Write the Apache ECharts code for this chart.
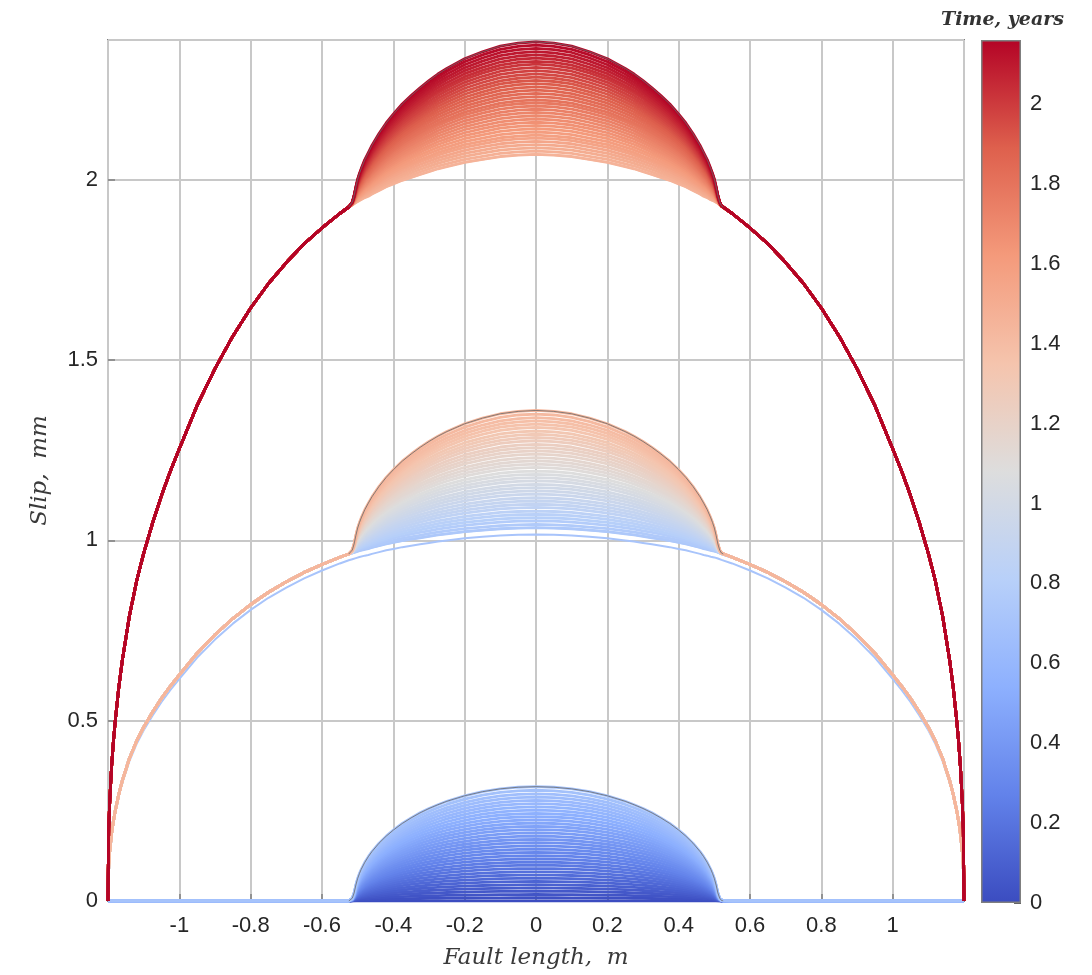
<!DOCTYPE html>
<html>
<head>
<meta charset="utf-8">
<title>Slip profiles</title>
<script src="https://cdn.jsdelivr.net/npm/echarts@6/dist/echarts.min.js"></script>
<style>
  html, body { margin: 0; padding: 0; background: #ffffff; }
  #chart { width: 1092px; height: 975px; }
</style>
</head>
<body>
<div id="chart"></div>
<script>
// Positions along the fault (m), one half; profiles are symmetric about x = 0
const faultX = [0, 0.05, 0.1, 0.15, 0.2, 0.25, 0.275, 0.3, 0.325, 0.35, 0.375, 0.4,
  0.42, 0.44, 0.46, 0.47, 0.48, 0.49, 0.495, 0.5, 0.505, 0.51, 0.515, 0.52, 0.525,
  0.55, 0.6, 0.65, 0.7, 0.75, 0.8, 0.85, 0.9, 0.95, 1.0,
  1.025, 1.05, 1.075, 1.1, 1.12, 1.14, 1.16, 1.17, 1.18, 1.185, 1.19, 1.195, 1.198, 1.2];

// Cumulative slip (mm) left by one full seismic cycle (creep patch + rupture)
const cycleSlip = [1.035, 1.034, 1.032, 1.028, 1.024, 1.018, 1.015, 1.011, 1.007, 1.003, 0.999, 0.994,
  0.990, 0.985, 0.980, 0.977, 0.975, 0.972, 0.971, 0.970, 0.968, 0.967, 0.965, 0.963, 0.962,
  0.953, 0.933, 0.911, 0.885, 0.856, 0.822, 0.783, 0.738, 0.687, 0.627,
  0.596, 0.562, 0.524, 0.482, 0.443, 0.395, 0.333, 0.295, 0.248, 0.220, 0.186, 0.140, 0.100, 0];

// Creeping patch profile, relative to its central slip
const creepShape = [1, 0.995, 0.981, 0.956, 0.920, 0.872, 0.842, 0.809, 0.771, 0.727, 0.678, 0.620,
  0.567, 0.506, 0.432, 0.388, 0.338, 0.277, 0.240, 0.197, 0.140, 0.070, 0.025, 0.005, 0,
  0, 0, 0, 0, 0, 0, 0, 0, 0, 0,
  0, 0, 0, 0, 0, 0, 0, 0, 0, 0, 0, 0, 0, 0];

// Saved creep profiles: time (years) and central patch slip (mm), per cycle
const creepTime1 = [0.00, 0.02, 0.04, 0.06, 0.08, 0.10, 0.12, 0.14, 0.16, 0.18, 0.20, 0.22,
  0.24, 0.26, 0.28, 0.30, 0.32, 0.34, 0.36, 0.38, 0.40, 0.42, 0.44, 0.46, 0.48, 0.50, 0.52,
  0.54, 0.56, 0.58, 0.60, 0.62, 0.64, 0.66, 0.68, 0.70];
const creepSlip1 = [0.000, 0.009, 0.018, 0.027, 0.036, 0.045, 0.054, 0.063, 0.072, 0.081, 0.090,
  0.099, 0.108, 0.117, 0.126, 0.135, 0.144, 0.153, 0.162, 0.171, 0.180, 0.189, 0.198, 0.207,
  0.216, 0.225, 0.234, 0.243, 0.252, 0.261, 0.270, 0.279, 0.288, 0.297, 0.307, 0.317];
const creepTime2 = [0.74, 0.76, 0.78, 0.80, 0.82, 0.84, 0.86, 0.88, 0.90, 0.92, 0.94, 0.96,
  0.98, 1.00, 1.02, 1.04, 1.06, 1.08, 1.10, 1.12, 1.14, 1.16, 1.18, 1.20, 1.22, 1.24, 1.26,
  1.28, 1.30, 1.32, 1.34, 1.36, 1.38, 1.40, 1.42, 1.44];
const creepSlip2 = [0.000, 0.009, 0.019, 0.028, 0.037, 0.046, 0.056, 0.065, 0.074, 0.083, 0.093,
  0.102, 0.111, 0.120, 0.130, 0.139, 0.148, 0.157, 0.167, 0.176, 0.185, 0.194, 0.204, 0.213,
  0.222, 0.231, 0.241, 0.250, 0.259, 0.268, 0.278, 0.287, 0.296, 0.305, 0.315, 0.325];
const creepTime3 = [1.46, 1.48, 1.50, 1.52, 1.54, 1.56, 1.58, 1.60, 1.62, 1.64, 1.66, 1.68,
  1.70, 1.72, 1.74, 1.76, 1.78, 1.80, 1.82, 1.84, 1.86, 1.88, 1.90, 1.92, 1.94, 1.96, 1.98,
  2.00, 2.02, 2.04, 2.06, 2.08, 2.10, 2.12, 2.14, 2.16];
const creepSlip3 = [0.000, 0.009, 0.018, 0.027, 0.036, 0.045, 0.053, 0.062, 0.071, 0.080, 0.089,
  0.098, 0.107, 0.116, 0.125, 0.134, 0.143, 0.151, 0.160, 0.169, 0.178, 0.187, 0.196, 0.205,
  0.214, 0.223, 0.232, 0.241, 0.250, 0.258, 0.267, 0.276, 0.285, 0.294, 0.303, 0.312];

// Rupture profiles: time (years) and slip level in units of one cycle
const ruptureTime = [0.71, 0.72, 1.45];
const ruptureLevel = [0.982, 1, 2];

// Colour scale (cool-warm) and its range in years
const timeMax = 2.16;
const coolWarm = ['#3b4cc0', '#6282ea', '#8db0fe', '#b8d0f9', '#dddddd',
  '#f5c4ad', '#f49a7b', '#de604d', '#b40426'];

function hexRgb(h) {
  return [parseInt(h.slice(1, 3), 16), parseInt(h.slice(3, 5), 16), parseInt(h.slice(5, 7), 16)];
}
function timeColor(t) {
  const f = Math.max(0, Math.min(1, t / timeMax)) * (coolWarm.length - 1);
  const i = Math.min(coolWarm.length - 2, Math.floor(f));
  const u = f - i;
  const a = hexRgb(coolWarm[i]), b = hexRgb(coolWarm[i + 1]);
  const c = a.map((v, k) => Math.round(v + (b[k] - v) * u));
  return 'rgb(' + c.join(',') + ')';
}

// Full fault: mirror the half-profiles
const halfN = faultX.length;
const fullIdx = [];
for (let i = halfN - 1; i >= 1; i--) fullIdx.push(-i);
for (let i = 0; i < halfN; i++) fullIdx.push(i);
function profile(level, peak) {
  return fullIdx.map(j => {
    const i = Math.abs(j);
    const x = j < 0 ? -faultX[i] : faultX[i];
    return [x, level * cycleSlip[i] + peak * creepShape[i]];
  });
}

// Collect every saved profile in time order
const profiles = [];
[[creepTime1, creepSlip1, 0], [creepTime2, creepSlip2, 1], [creepTime3, creepSlip3, 2]]
  .forEach(([times, peaks, cycle]) => {
    times.forEach((t, k) => profiles.push({ t, data: profile(cycle, peaks[k]), last: k === times.length - 1, rupture: false }));
  });
ruptureTime.forEach((t, k) => profiles.push({ t, data: profile(ruptureLevel[k], 0), last: false, rupture: true }));
profiles.sort((a, b) => a.t - b.t);

const series = [];
profiles.forEach(p => {
  series.push({
    type: 'line', data: p.data, showSymbol: false, silent: true, animation: false,
    xAxisIndex: 0, yAxisIndex: 0, z: 3,
    lineStyle: { color: timeColor(p.t), width: p.rupture ? 2 : 2.8 }
  });
});
// Thin outline over the creeping patch on the final profile of each episode
profiles.filter(p => p.last).forEach(p => {
  series.push({
    type: 'line', data: p.data.filter(d => Math.abs(d[0]) <= 0.525),
    showSymbol: false, silent: true, animation: false,
    xAxisIndex: 0, yAxisIndex: 0, z: 4,
    lineStyle: { color: 'rgba(105,105,105,0.8)', width: 1 }
  });
});

// Colour bar drawn as a single bar with the cool-warm gradient
series.push({
  type: 'bar', xAxisIndex: 1, yAxisIndex: 1, data: [timeMax], barWidth: '100%',
  silent: true, animation: false,
  itemStyle: {
    borderColor: '#7f7f7f', borderWidth: 1.5,
    color: new echarts.graphic.LinearGradient(0, 1, 0, 0,
      coolWarm.map((c, i) => ({ offset: i / (coolWarm.length - 1), color: c })))
  }
});

const tickFont = { fontFamily: 'Liberation Sans, Arial, sans-serif', fontSize: 22, color: '#262626' };
const nameFont = { fontFamily: 'DejaVu Serif, serif', fontStyle: 'italic', fontSize: 23, color: '#3a3a3a' };

const chart = echarts.init(document.getElementById('chart'), null, { renderer: 'canvas' });
chart.setOption({
  backgroundColor: '#ffffff',
  animation: false,
  title: {
    text: 'Time, years', left: 936, top: 6,
    textStyle: { fontFamily: 'DejaVu Serif, serif', fontStyle: 'italic', fontWeight: 'bold', fontSize: 19, color: '#333333' }
  },
  grid: [
    { left: 108, top: 40, width: 856, height: 863, show: true, borderColor: '#7f7f7f', borderWidth: 2, backgroundColor: '#ffffff' },
    { left: 981, top: 40, width: 40, height: 863 }
  ],
  xAxis: [
    {
      type: 'value', gridIndex: 0, min: -1.2, max: 1.2, interval: 0.2,
      name: 'Fault length,  m', nameLocation: 'middle', nameGap: 46, nameTextStyle: nameFont,
      axisLine: { show: false, onZero: false },
      axisTick: { show: true, inside: true, length: 7, lineStyle: { color: '#7f7f7f', width: 1.5 } },
      axisLabel: Object.assign({ margin: 14, showMinLabel: false, showMaxLabel: false }, tickFont),
      splitLine: { show: true, lineStyle: { color: '#c8c8c8', width: 2 } }
    },
    {
      type: 'category', gridIndex: 1, data: ['t'], show: false
    }
  ],
  yAxis: [
    {
      type: 'value', gridIndex: 0, min: 0, max: 2.387, interval: 0.5,
      name: 'Slip,  mm', nameLocation: 'middle', nameGap: 56, nameRotate: 90, nameTextStyle: nameFont,
      axisLine: { show: false, onZero: false },
      axisTick: { show: true, inside: true, length: 7, lineStyle: { color: '#7f7f7f', width: 1.5 } },
      axisLabel: Object.assign({ margin: 10, showMaxLabel: false }, tickFont),
      splitLine: { show: true, lineStyle: { color: '#c8c8c8', width: 2 } }
    },
    {
      type: 'value', gridIndex: 1, min: 0, max: timeMax, interval: 0.2, position: 'right',
      axisLine: { show: false },
      axisTick: { show: true, inside: true, length: 7, lineStyle: { color: '#333333', width: 1.5 } },
      axisLabel: Object.assign({ margin: 9, showMaxLabel: false }, tickFont),
      splitLine: { show: false }
    }
  ],
  series: series
});
</script>
</body>
</html>
